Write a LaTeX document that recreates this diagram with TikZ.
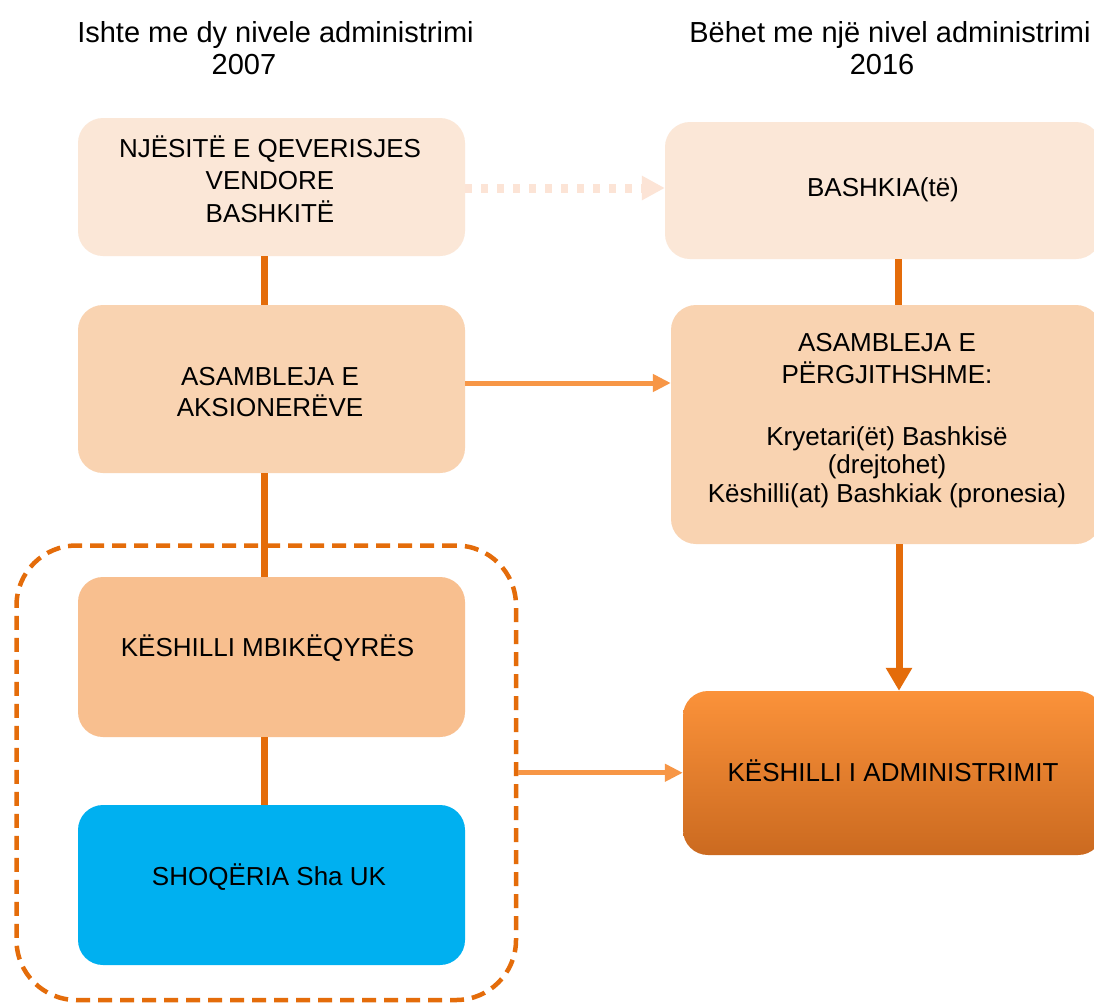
\documentclass[tikz,border=0pt]{standalone}
\usepackage{fontspec}
\setmainfont{Liberation Sans}
\usetikzlibrary{arrows.meta}

\definecolor{peachA}{HTML}{FBE7D7}
\definecolor{peachB}{HTML}{F9D3B1}
\definecolor{peachC}{HTML}{F8BF8F}
\definecolor{skyblue}{HTML}{00B0F0}
\definecolor{orangeTop}{HTML}{FB923A}
\definecolor{orangeBot}{HTML}{CB6A20}
\definecolor{darkline}{HTML}{E46C0A}
\definecolor{lightline}{HTML}{F79646}
\definecolor{dotline}{HTML}{FCE4D6}

\tikzset{
  box/.style={rounded corners=25pt, inner sep=0pt, draw=none},
  % multi-line labels are anchored at the baseline of their last line
  boxtext/.style={anchor=base, inner sep=0pt, align=center,
    font=\fontsize{26}{32.5}\selectfont},
  titletext/.style={anchor=base, inner sep=0pt, font=\fontsize{29}{32}\selectfont},
  link/.style={draw=darkline, line width=7pt},
  flow/.style={draw=lightline, line width=5pt, -{Triangle[length=18pt,width=17pt]}},
  mainflow/.style={draw=darkline, line width=7pt, -{Triangle[length=23pt,width=25pt]}},
  softflow/.style={draw=dotline, line width=9pt, dash pattern=on 7pt off 9pt,
    -{Triangle[length=23pt,width=23pt]}},
  groupframe/.style={draw=darkline, line width=4.5pt, dash pattern=on 14pt off 8pt,
    rounded corners=60pt, inner sep=0pt, fill=none},
}

\begin{document}
\begin{tikzpicture}[x=1pt, y=-1pt]
\useasboundingbox (0,0) rectangle (1094,1005);
\clip (0,0) rectangle (1094,1005);
\fill[white] (0,0) rectangle (1094,1005);

% column headings
\node[titletext] (h1) at (275.5,42) {Ishte me dy nivele administrimi};
\node[titletext] (h1y) at (244,74) {2007};
\node[titletext] (h2) at (890,42) {Bëhet me një nivel administrimi};
\node[titletext] (h2y) at (882,74) {2016};

% dashed frame around the supervisory council and the company
\node[groupframe, minimum width=499.5pt, minimum height=454.5pt] (grp) at (266.25,772.75) {};

% left column (2007)
\node[box, fill=peachA, minimum width=387pt, minimum height=138pt] (a1) at (271.5,187) {};
\node[box, fill=peachB, minimum width=387pt, minimum height=168pt] (a2) at (271.5,389) {};
\node[box, fill=peachC, minimum width=387pt, minimum height=160pt] (a3) at (271.5,657) {};
\node[box, fill=skyblue, minimum width=387pt, minimum height=160pt] (a4) at (271.5,885) {};

% right column (2016)
\node[box, fill=peachA, minimum width=436pt, minimum height=137pt] (b1) at (883,190.5) {};
\node[box, fill=peachB, minimum width=430pt, minimum height=239pt] (b2) at (886,424.5) {};
\node[box, shade, top color=orangeTop, bottom color=orangeBot,
      minimum width=420pt, minimum height=164pt] (b3) at (893,773) {};

% box labels
\node[boxtext] (ta1) at (270,222) {NJËSITË E QEVERISJES\\VENDORE\\BASHKITË};
\node[boxtext, font=\fontsize{26}{31}\selectfont] (ta2) at (270,416) {ASAMBLEJA E\\AKSIONERËVE};
\node[boxtext] (ta3) at (267.5,656) {KËSHILLI MBIKËQYRËS};
\node[boxtext] (ta4) at (269,885) {SHOQËRIA Sha UK};
\node[boxtext] (tb1) at (883,196) {BASHKIA(të)};
\node[boxtext, font=\fontsize{26}{28.5}\selectfont] (tb2) at (887,502)
  {ASAMBLEJA E\\[4pt]PËRGJITHSHME:\\[33pt]Kryetari(ët) Bashkisë\\(drejtohet)\\Këshilli(at) Bashkiak (pronesia)};
\node[boxtext] (tb3) at (893,781) {KËSHILLI I ADMINISTRIMIT};

% vertical links, left column
\draw[link] ([xshift=-7.5pt]a1.south) -- ([xshift=-7.5pt]a2.north);
\draw[link] ([xshift=-7.5pt]a2.south) -- ([xshift=-7.5pt]a3.north);
\draw[link] ([xshift=-7.5pt]a3.south) -- ([xshift=-7.5pt]a4.north);

% right column links
\draw[link] ([xshift=15pt]b1.south) -- ([xshift=15pt]b1.south |- b2.north);
\draw[mainflow] ([xshift=13pt]b2.south) -- ([xshift=13pt]b2.south |- b3.north);

% transitions from 2007 to 2016
\draw[softflow] ([yshift=-1pt]a1.east) -- ([yshift=-1pt]a1.east -| b1.west);
\draw[flow] ([yshift=6pt]a2.east) -- ([yshift=6pt]a2.east -| b2.west);
\draw[flow] (grp.east) -- (grp.east -| b3.west);
\end{tikzpicture}
\end{document}
